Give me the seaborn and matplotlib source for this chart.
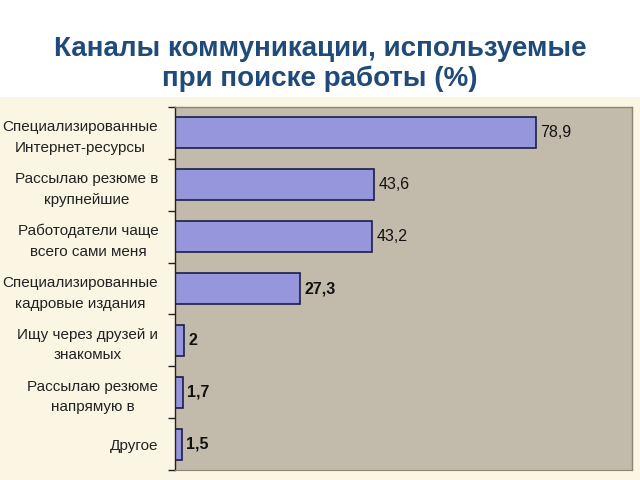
import matplotlib
matplotlib.use("Agg")
import matplotlib.pyplot as plt
import seaborn as sns
import pandas as pd
from matplotlib.patches import Rectangle
from matplotlib.ticker import FixedLocator

categories = [
    "Специализированные\nИнтернет-ресурсы",
    "Рассылаю резюме в\nкрупнейшие",
    "Работодатели чаще\nвсего сами меня",
    "Специализированные\nкадровые издания",
    "Ищу через друзей и\nзнакомых",
    "Рассылаю резюме\nнапрямую в",
    "Другое",
]
values = [78.9, 43.6, 43.2, 27.3, 2, 1.7, 1.5]
value_labels = ["78,9", "43,6", "43,2", "27,3", "2", "1,7", "1,5"]
title = "Каналы коммуникации, используемые\nпри поиске работы (%)"

sns.set_style("white")
plt.rcParams['font.family'] = ['Liberation Sans', 'DejaVu Sans']

df = pd.DataFrame({"cat": categories, "val": values})

fig = plt.figure(figsize=(6.4, 4.8), dpi=100, facecolor="white")
# beige lower panel
fig.patches.append(Rectangle((0, 0), 1, 383 / 480, transform=fig.transFigure,
                             facecolor="#FBF5E3", edgecolor="none", zorder=-10))

ax = fig.add_axes([175 / 640, 10 / 480, 457 / 640, 363 / 480])
ax.set_zorder(1)
ax.set_facecolor("#C2BBAB")
sns.barplot(data=df, y="cat", x="val", orient="h", ax=ax, width=0.6,
            color="#9696DC", edgecolor="#1C1C4C", linewidth=1.2, saturation=1)
ax.set_xlim(0, 100)
ax.set_ylim(6.5, -0.5)
ax.set_xlabel("")
ax.set_ylabel("")
ax.set_xticks([])

for i, (v, lab) in enumerate(zip(values, value_labels)):
    ax.text(v + 1.0, i, lab, va="center", ha="left", fontsize=11.5,
            fontweight="bold" if i >= 3 else "normal", color="#111111")

ax.tick_params(axis="y", which="major", left=False, length=0, pad=12,
               labelsize=11, labelcolor="#222222")
for t in ax.get_yticklabels():
    t.set_multialignment("center")
    t.set_linespacing(1.6)
ax.yaxis.set_minor_locator(FixedLocator([i - 0.5 for i in range(8)]))
ax.tick_params(axis="y", which="minor", left=True, length=5, width=1,
               color="#222222", direction="out")

for s in ["top", "right"]:
    ax.spines[s].set_color("#8A8474")
    ax.spines[s].set_linewidth(1)
ax.spines["bottom"].set_color("#8A8474")
ax.spines["left"].set_color("#222222")
ax.spines["left"].set_linewidth(1)

fig.text(0.5, 1 - 64 / 480, title, ha="center", va="center", fontsize=20,
         fontweight="bold", color="#1F4A7A", linespacing=1.2)

fig.savefig("out.png", dpi=100, facecolor=fig.get_facecolor())
